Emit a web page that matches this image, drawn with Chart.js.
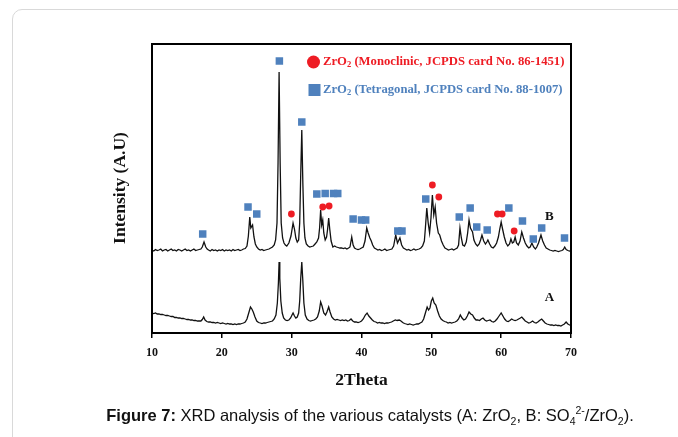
<!DOCTYPE html>
<html>
<head>
<meta charset="utf-8">
<script src="https://cdn.jsdelivr.net/npm/chart.js@4/dist/chart.umd.min.js"></script>
<style>
    body { margin: 0; background: #fff; }
    #wrap { position: relative; width: 678px; height: 437px; overflow: hidden; }
    .card {
        position: absolute; left: 12px; top: 9px; width: 720px; height: 480px;
        border: 1.5px solid #d9d9d9; border-radius: 10px; box-sizing: border-box;
    }
    canvas { position: absolute; left: 0; top: 0; }
    .caption {
        position: absolute; left: 0; width: 740px; top: 404px; text-align: center;
        font-family: 'Liberation Sans', Arial, sans-serif; font-size: 16.5px; color: #111;
    }
    .caption sub, .caption sup { font-size: 10.5px; }
</style>
</head>
<body>
<div id="wrap">
    <div class="card"></div>
    <canvas id="xrd" width="678" height="437"></canvas>
    <div class="caption"><b>Figure 7:</b> XRD analysis of the various catalysts (A: ZrO<sub>2</sub>, B: SO<sub>4</sub><sup>2-</sup>/ZrO<sub>2</sub>).</div>
</div>
<script>
// sample B: SO4 2-/ZrO2 (offset pattern)
const twoThetaB = [10.0, 10.25, 10.5, 10.75, 11.0, 11.25, 11.5, 11.75, 12.0, 12.25, 12.5, 12.75, 13.0, 13.25, 13.5, 13.75, 14.0, 14.25, 14.5, 14.75,
    15.0, 15.25, 15.5, 15.75, 16.0, 16.25, 16.5, 16.75, 17.0, 17.2, 17.45, 17.7, 17.9, 18.1, 18.35, 18.6, 18.85, 19.1, 19.35, 19.6,
    19.85, 20.1, 20.35, 20.6, 20.85, 21.1, 21.35, 21.6, 21.85, 22.1, 22.35, 22.6, 22.85, 23.1, 23.35, 23.6, 23.8, 24.0, 24.15, 24.4,
    24.6, 24.8, 25.0, 25.25, 25.5, 25.75, 26.0, 26.25, 26.5, 26.75, 27.0, 27.25, 27.5, 27.7, 27.9, 28.05, 28.2, 28.35, 28.5, 28.7,
    28.9, 29.1, 29.3, 29.6, 29.9, 30.2, 30.4, 30.6, 30.8, 31.0, 31.15, 31.3, 31.45, 31.6, 31.75, 31.9, 32.1, 32.35, 32.6, 32.85,
    33.1, 33.35, 33.6, 33.85, 34.0, 34.15, 34.3, 34.45, 34.6, 34.8, 35.0, 35.15, 35.3, 35.45, 35.65, 35.9, 36.15, 36.4, 36.65, 36.9,
    37.15, 37.4, 37.65, 37.9, 38.15, 38.35, 38.6, 38.8, 39.0, 39.25, 39.5, 39.75, 40.0, 40.25, 40.5, 40.75, 40.95, 41.2, 41.4, 41.6,
    41.85, 42.1, 42.35, 42.6, 42.85, 43.1, 43.35, 43.6, 43.85, 44.1, 44.35, 44.6, 44.9, 45.15, 45.5, 45.75, 46.0, 46.25, 46.5, 46.75,
    47.0, 47.25, 47.5, 47.75, 48.0, 48.25, 48.5, 48.75, 49.0, 49.15, 49.35, 49.55, 49.75, 49.95, 50.15, 50.35, 50.55, 50.75, 51.0, 51.2,
    51.45, 51.7, 51.95, 52.2, 52.45, 52.7, 52.95, 53.2, 53.45, 53.7, 53.9, 54.1, 54.3, 54.5, 54.75, 55.0, 55.2, 55.4, 55.6, 55.9,
    56.1, 56.35, 56.6, 56.85, 57.05, 57.25, 57.5, 57.75, 57.95, 58.1, 58.35, 58.6, 58.85, 59.1, 59.35, 59.6, 59.8, 60.0, 60.2, 60.45,
    60.7, 60.95, 61.2, 61.4, 61.6, 61.8, 62.0, 62.2, 62.45, 62.7, 62.95, 63.2, 63.45, 63.7, 63.95, 64.15, 64.4, 64.65, 64.9, 65.1,
    65.35, 65.7, 65.95, 66.2, 66.45, 66.7, 66.95, 67.2, 67.45, 67.7, 67.95, 68.2, 68.45, 68.7, 68.9, 69.1, 69.3, 69.55, 69.8, 70.0];
const intensityB = [83, 82, 83.5, 82.5, 83, 84, 82, 83, 83.5, 82, 83, 84, 82.5, 83, 82, 83.5, 83, 82, 83, 84,
    82.5, 83, 82, 83, 84, 82.5, 83, 83.5, 84, 86, 91, 86, 84, 83, 82, 83.5, 82.5, 83, 82, 83,
    82.5, 83.5, 82, 83, 82.5, 83, 82, 83.5, 82.5, 83, 83.5, 82.5, 83, 84, 84.5, 87, 97, 116, 105, 108,
    96, 89, 86, 84, 83, 83.5, 82.5, 83, 83.5, 84, 85, 86, 88, 93, 110, 170, 261, 170, 110, 95,
    90, 88, 87, 90, 97, 110, 104, 95, 91, 93, 110, 160, 203, 150, 110, 95, 89, 87, 86, 86.5,
    87, 89, 91, 95, 105, 123, 108, 113, 100, 93, 96, 104, 115, 104, 92, 86, 87, 86, 85.5, 85,
    85, 84.5, 85, 84, 85, 86, 96, 88, 85, 84, 83.5, 84, 85, 86, 92, 105, 100, 95, 92, 88,
    85, 84, 83, 83.5, 82.5, 83, 84, 82.5, 83, 83.5, 84, 87, 98, 90, 95, 88, 85, 84, 83, 83.5,
    82.5, 83, 84, 83, 83.5, 84, 85, 87, 92, 105, 125, 110, 100, 115, 138, 118, 126, 110, 100, 98,
    92, 88, 85, 84, 83, 83.5, 84, 83, 84, 85, 88, 105, 95, 88, 87, 91, 100, 113, 105, 101,
    93, 89, 87, 89, 93, 98, 92, 89, 91, 93, 89, 86, 85, 87, 90, 96, 104, 111, 104, 96,
    90, 87, 89, 94, 90, 91, 96, 90, 88, 92, 101, 95, 90, 87, 85, 86, 90, 86, 84, 86,
    90, 98, 92, 88, 85, 84, 83, 82.5, 82, 82.5, 82, 81.5, 82, 82.5, 83.5, 86, 83.5, 82.5, 82, 82.5];

// sample A: ZrO2
const twoThetaA = [10.0, 10.25, 10.5, 10.75, 11.0, 11.25, 11.5, 11.75, 12.0, 12.25, 12.5, 12.75, 13.0, 13.25, 13.5, 13.75, 14.0, 14.25, 14.5, 14.75,
    15.0, 15.25, 15.5, 15.75, 16.0, 16.25, 16.5, 16.75, 17.0, 17.2, 17.4, 17.6, 17.85, 18.1, 18.35, 18.6, 18.85, 19.1, 19.35, 19.6,
    19.85, 20.1, 20.35, 20.6, 20.85, 21.1, 21.35, 21.6, 21.85, 22.1, 22.35, 22.6, 22.85, 23.1, 23.35, 23.6, 23.85, 24.1, 24.3, 24.5,
    24.75, 25.0, 25.25, 25.5, 25.75, 26.0, 26.25, 26.5, 26.75, 27.0, 27.25, 27.5, 27.75, 27.95, 28.1, 28.2, 28.3, 28.45, 28.65, 28.85,
    29.1, 29.35, 29.6, 29.85, 30.05, 30.2, 30.4, 30.6, 30.8, 31.0, 31.15, 31.3, 31.45, 31.6, 31.75, 31.95, 32.2, 32.45, 32.7, 32.95,
    33.2, 33.45, 33.7, 33.95, 34.15, 34.35, 34.6, 34.85, 35.05, 35.3, 35.5, 35.75, 36.0, 36.25, 36.5, 36.75, 37.0, 37.25, 37.5, 37.75,
    38.0, 38.25, 38.5, 38.75, 39.0, 39.25, 39.5, 39.75, 40.0, 40.25, 40.55, 40.8, 41.05, 41.3, 41.55, 41.8, 42.05, 42.3, 42.55, 42.8,
    43.05, 43.3, 43.55, 43.8, 44.05, 44.3, 44.55, 44.85, 45.1, 45.4, 45.65, 45.9, 46.15, 46.4, 46.65, 46.9, 47.15, 47.4, 47.65, 47.9,
    48.15, 48.4, 48.65, 48.9, 49.15, 49.4, 49.6, 49.8, 50.0, 50.2, 50.4, 50.65, 50.9, 51.15, 51.4, 51.65, 51.9, 52.15, 52.4, 52.65,
    52.9, 53.15, 53.4, 53.65, 53.9, 54.15, 54.4, 54.65, 54.9, 55.15, 55.4, 55.65, 55.9, 56.15, 56.4, 56.65, 56.9, 57.15, 57.4, 57.65,
    57.9, 58.15, 58.4, 58.65, 58.9, 59.15, 59.4, 59.7, 60.0, 60.25, 60.5, 60.75, 61.0, 61.25, 61.5, 61.75, 62.0, 62.25, 62.5, 62.75,
    62.95, 63.2, 63.45, 63.7, 63.95, 64.2, 64.5, 64.75, 65.0, 65.25, 65.5, 65.8, 66.05, 66.3, 66.55, 66.8, 67.05, 67.3, 67.55, 67.8,
    68.05, 68.3, 68.55, 68.8, 69.05, 69.3, 69.55, 69.8, 70.0];
const intensityA = [20, 19.5, 20, 19, 19, 18.5, 18.5, 18, 17.5, 17.5, 17, 16.5, 16.5, 15.5, 15.5, 15, 15, 14.5, 14.5, 14,
    13.5, 13.5, 13, 13, 12.5, 12.5, 12, 12, 12, 13.5, 16, 13, 11.5, 11, 11, 10.5, 10.5, 10, 10.5, 10,
    9.5, 10, 9.5, 9, 9.5, 9, 9, 8.5, 9, 8.5, 9, 9, 9.5, 10, 11, 14, 20, 26, 24, 21,
    16, 12, 10.5, 10, 9.5, 10, 10, 10.5, 11, 11.5, 12, 14, 18, 30, 50, 71, 55, 32, 20, 15,
    13, 12.5, 13, 15, 18, 20, 17, 15, 16, 20, 32, 55, 71, 52, 30, 18, 14, 12.5, 12, 12.5,
    13, 14, 16, 22, 31, 27, 20, 18, 21, 26, 21, 16, 14, 13, 13.5, 13, 12.5, 13, 12.5, 13,
    12, 12.5, 14, 12, 11, 11, 10.5, 11, 12, 14, 18, 20, 17, 15, 13, 11.5, 11, 10, 10.5, 10,
    10, 9.5, 10, 10, 10.5, 11, 12, 13, 12.5, 13, 12, 10.5, 9.5, 9, 8.5, 9, 8.5, 8, 8.5, 9,
    9, 10, 11, 14, 20, 26, 23, 25, 32, 35, 30, 28, 22, 17, 14, 12.5, 11.5, 11, 10, 10.5,
    10, 10.5, 11, 12, 14, 18, 15, 13, 14, 17, 21, 19, 18, 15, 13, 13, 12.5, 14, 15, 13,
    12, 12.5, 13, 11.5, 11, 12, 14, 17, 20, 17, 14, 12, 11.5, 12.5, 14, 13, 12.5, 13, 14, 15,
    16, 14, 12, 11, 10, 10.5, 12, 10.5, 10, 11, 12.5, 14, 12, 10, 9, 8.5, 8, 8, 7.5, 8,
    7.5, 7.5, 7, 8, 9, 11, 9, 8, 7.5];

// phase markers above the peaks of B
const tetragonalPos = [17.26, 23.75, 25.0, 28.24, 31.45, 33.6, 34.8, 36.0, 36.6, 38.8, 40.0, 40.6, 45.2, 45.8, 49.2, 54.0, 55.56, 56.5, 58.0, 61.1, 63.05, 64.6, 65.8, 69.07];
const tetragonalHeight = [99, 126, 119, 272, 211, 139, 139.5, 139.5, 139.5, 114, 113, 113, 102, 102, 134, 116, 125, 106, 103, 125, 112, 94, 105, 95];
const monoclinicPos = [29.96, 34.45, 35.36, 50.15, 51.07, 59.47, 60.14, 61.86];
const monoclinicHeight = [119, 126, 127, 148, 136, 119, 119, 102];

const xTicks = [10, 20, 30, 40, 50, 60, 70];

const RED = '#ee1c24';
const BLUE = '#4f81bd';
const SERIF = "'Liberation Serif', 'Times New Roman', serif";

const toPoints = (xs, ys) => xs.map((x, i) => ({ x: x, y: ys[i] }));

// frame, axis titles, legend and sample labels
const decorations = {
    id: 'decorations',
    afterDraw(chart) {
        const { ctx, chartArea: a, scales: { x, y } } = chart;
        ctx.save();
        ctx.strokeStyle = '#000';
        ctx.lineWidth = 2;
        ctx.strokeRect(a.left, a.top, a.right - a.left, a.bottom - a.top);

        ctx.fillStyle = '#111';
        ctx.textAlign = 'center';
        ctx.textBaseline = 'middle';
        ctx.font = 'bold 17.5px ' + SERIF;
        ctx.fillText('2Theta', (a.left + a.right) / 2, 380);

        ctx.save();
        ctx.translate(120, 188);
        ctx.rotate(-Math.PI / 2);
        ctx.fillText('Intensity (A.U)', 0, 0);
        ctx.restore();

        ctx.font = 'bold 13px ' + SERIF;
        ctx.fillText('B', x.getPixelForValue(66.9), y.getPixelForValue(116));
        ctx.fillText('A', x.getPixelForValue(66.9), y.getPixelForValue(35));

        // legend
        const drawEntry = (label, color, cy, marker) => {
            ctx.fillStyle = color;
            if (marker === 'circle') {
                ctx.beginPath();
                ctx.arc(313.5, cy, 6.5, 0, Math.PI * 2);
                ctx.fill();
            } else {
                ctx.fillRect(308.5, cy - 6, 12, 12);
            }
            ctx.textAlign = 'left';
            let tx = 323;
            ctx.font = 'bold 12.7px ' + SERIF;
            ctx.fillText('ZrO', tx, cy);
            tx += ctx.measureText('ZrO').width;
            ctx.font = 'bold 8.5px ' + SERIF;
            ctx.fillText('2', tx, cy + 3);
            tx += ctx.measureText('2').width;
            ctx.font = 'bold 12.7px ' + SERIF;
            ctx.fillText(' ' + label, tx, cy);
        };
        drawEntry('(Monoclinic, JCPDS card No. 86-1451)', RED, 62, 'circle');
        drawEntry('(Tetragonal, JCPDS card No. 88-1007)', BLUE, 90, 'rect');
        ctx.restore();
    }
};

new Chart(document.getElementById('xrd'), {
    type: 'scatter',
    data: {
        datasets: [
            {
                label: 'Monoclinic',
                data: toPoints(monoclinicPos, monoclinicHeight),
                pointStyle: 'circle',
                pointRadius: 3.4,
                backgroundColor: RED,
                borderWidth: 0
            },
            {
                label: 'Tetragonal',
                data: toPoints(tetragonalPos, tetragonalHeight),
                pointStyle: 'rect',
                pointRadius: 5.3,
                backgroundColor: BLUE,
                borderWidth: 0
            },
            {
                label: 'B',
                data: toPoints(twoThetaB, intensityB),
                showLine: true,
                borderColor: '#111',
                borderWidth: 1.3,
                pointRadius: 0,
                tension: 0
            },
            {
                label: 'A',
                data: toPoints(twoThetaA, intensityA),
                showLine: true,
                borderColor: '#111',
                borderWidth: 1.3,
                pointRadius: 0,
                tension: 0
            }
        ]
    },
    options: {
        responsive: false,
        animation: false,
        devicePixelRatio: 1,
        layout: { padding: { left: 152, right: 107, top: 44, bottom: 74 } },
        plugins: { legend: { display: false }, tooltip: { enabled: false } },
        scales: {
            x: {
                type: 'linear',
                min: 10,
                max: 70,
                afterFit: (scale) => { scale.height = 30; },
                afterBuildTicks: (scale) => { scale.ticks = xTicks.map(v => ({ value: v })); },
                ticks: {
                    color: '#111',
                    padding: 8,
                    maxRotation: 0,
                    font: { family: SERIF, size: 12, weight: 'bold' }
                },
                grid: { drawOnChartArea: false, drawTicks: true, tickLength: 5, color: '#000', lineWidth: 1.5 },
                border: { display: true, color: '#000', width: 2 }
            },
            y: {
                display: false,
                min: 0,
                max: 289
            }
        }
    },
    plugins: [decorations]
});
</script>
</body>
</html>
